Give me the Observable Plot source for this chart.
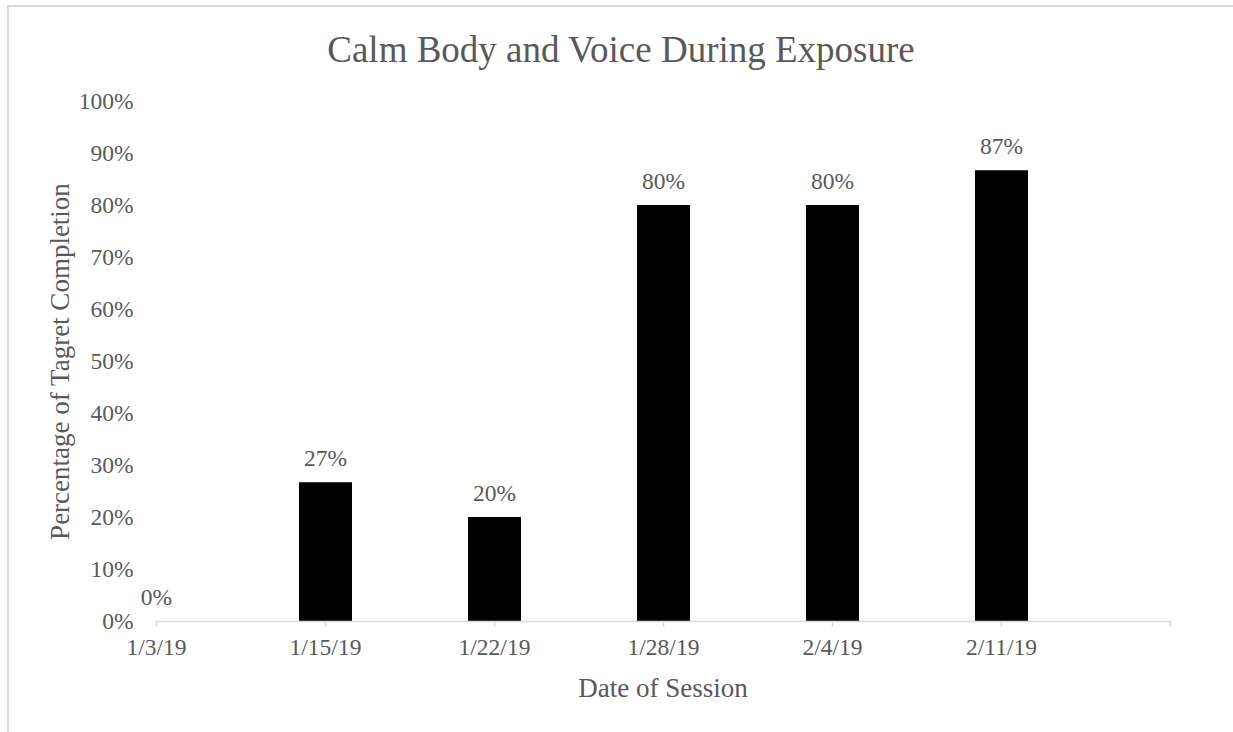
<!DOCTYPE html>
<html>
<head>
<meta charset="utf-8">
<script src="https://cdn.jsdelivr.net/npm/d3@7"></script>
<script src="https://cdn.jsdelivr.net/npm/@observablehq/plot@0.6"></script>
<style>
  html, body { margin: 0; padding: 0; background: #fff; overflow: hidden; }
  #wrap { position: relative; width: 1233px; height: 732px; overflow: hidden; }
  #frame { position: absolute; left: 7px; top: 5px; width: 1400px; height: 900px; border: 2px solid #d9d9d9; box-sizing: border-box; }
  #chart { position: absolute; left: 0; top: 0; }
  #chart svg, #chart svg text { font-family: "Liberation Serif", "Times New Roman", serif !important; }
</style>
</head>
<body>
<div id="wrap"><div id="frame"></div><div id="chart"></div></div>
<script>
const title = "Calm Body and Voice During Exposure";
const xLabel = "Date of Session";
const yLabel = "Percentage of Tagret Completion";
const dates = ["1/3/19", "1/15/19", "1/22/19", "1/28/19", "2/4/19", "2/11/19"];
const values = [0, 0.2667, 0.2, 0.8, 0.8, 0.8667];
const yTicks = [0, 0.1, 0.2, 0.3, 0.4, 0.5, 0.6, 0.7, 0.8, 0.9, 1.0];

const data = dates.map((d, i) => ({date: d, value: values[i]}));
const xDomain = [...dates, ""];
const pct = d3.format(".0%");
const font = "Liberation Serif";
const textColor = "#595959";

const chart = Plot.plot({
  width: 1233,
  height: 732,
  marginLeft: 155,
  marginRight: 63,
  marginTop: 101,
  marginBottom: 111,
  style: {fontFamily: font, background: "transparent", overflow: "visible"},
  x: {type: "point", domain: xDomain, padding: 0},
  y: {domain: [0, 1]},
  marks: [
    Plot.ruleX(data, {x: "date", y1: 0, y2: "value", stroke: "#000", strokeWidth: 53}),
    Plot.ruleY([0], {stroke: "#d9d9d9", strokeWidth: 1.5}),
    Plot.axisX({
      tickSize: 6, stroke: "#d9d9d9", strokeWidth: 1.5, fill: textColor,
      fontSize: 23.5, tickPadding: 11, label: null, tickFormat: d => d, fontFamily: font
    }),
    Plot.axisY({
      ticks: yTicks, tickFormat: pct, tickSize: 0, tickPadding: 22,
      fontSize: 23.5, fill: textColor, label: null, fontFamily: font
    }),
    Plot.text(data, {x: "date", y: "value", text: d => pct(d.value), dy: -24, fontSize: 23.5, fill: textColor, fontFamily: font}),
    Plot.text([xLabel], {frameAnchor: "bottom", lineAnchor: "middle", dy: 67, fontSize: 27, fill: textColor, fontFamily: font}),
    Plot.text([yLabel], {frameAnchor: "left", textAnchor: "middle", lineAnchor: "middle", dx: -95, rotate: -90, fontSize: 27, fill: textColor, fontFamily: font}),
    Plot.text([title], {frameAnchor: "top", textAnchor: "middle", lineAnchor: "middle", dx: -42, dy: -51, fontSize: 37, fill: textColor, fontFamily: font})
  ]
});
document.getElementById("chart").appendChild(chart);
</script>
</body>
</html>
